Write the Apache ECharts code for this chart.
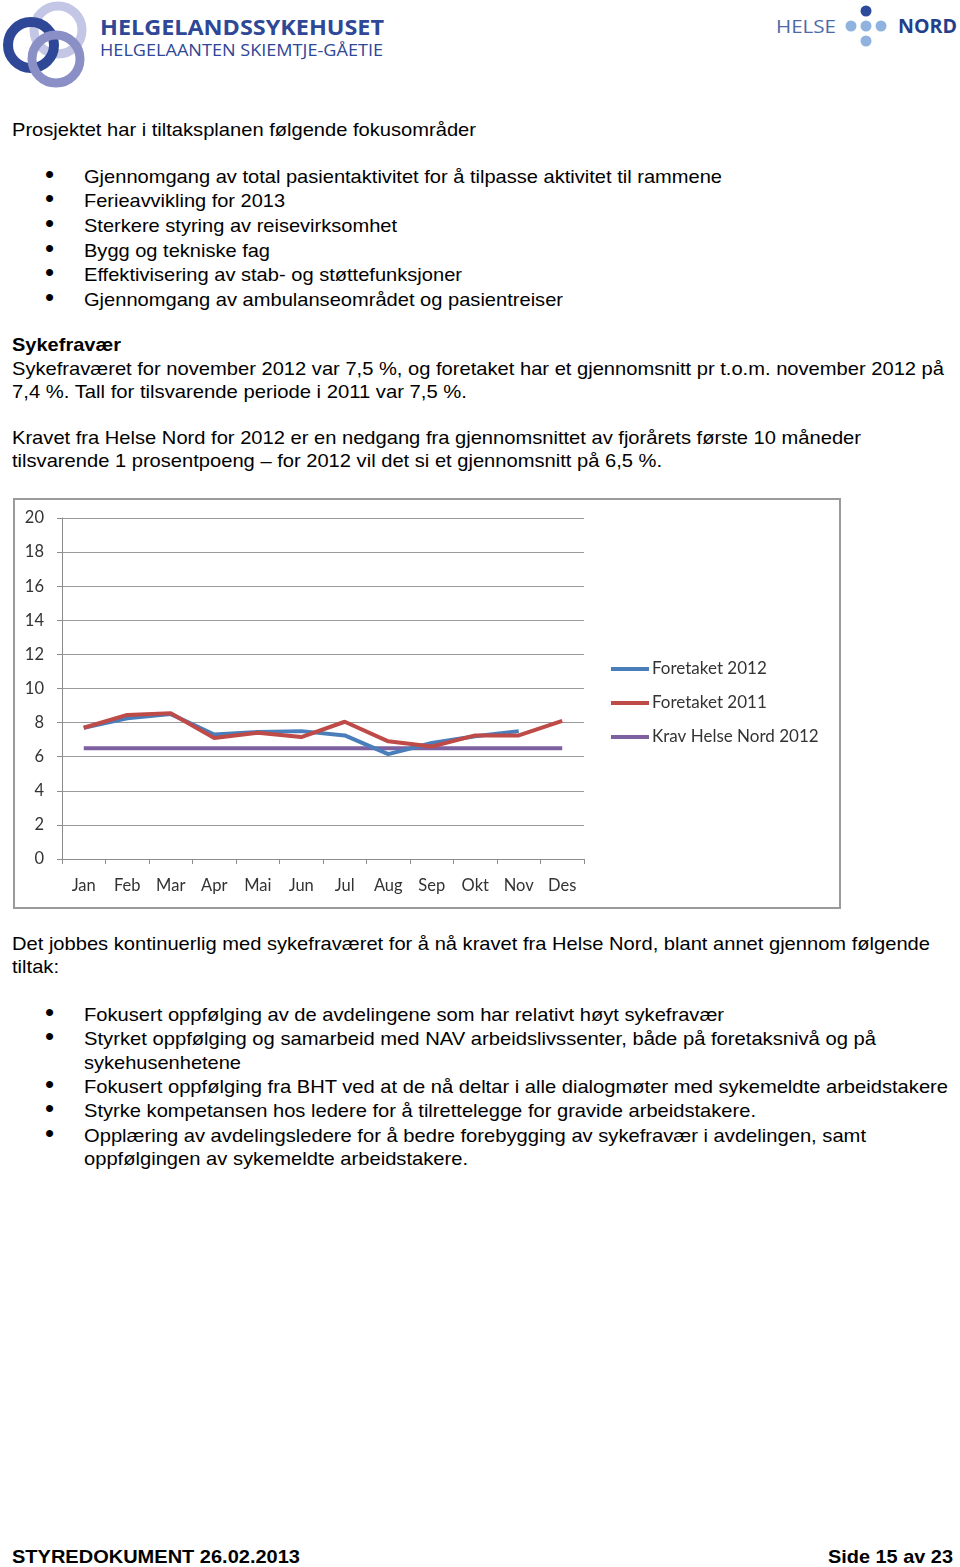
<!DOCTYPE html>
<html>
<head>
<meta charset="utf-8">
<script src="https://cdn.jsdelivr.net/npm/echarts@6/dist/echarts.min.js"></script>
<style>
  html, body { margin: 0; padding: 0; background: #fff; }
  body { width: 960px; height: 1567px; position: relative; overflow: hidden; }
  .ln { position: absolute; white-space: nowrap; font-family: "Liberation Sans", Arial, sans-serif; color: #000; transform-origin: 0 0; }
  #chart { position: absolute; left: 12px; top: 497px; width: 829px; height: 412px; }
</style>
</head>
<body>
<svg id="logo" width="960" height="95" style="position:absolute;left:0;top:0">
  <circle cx="58" cy="30" r="24" fill="none" stroke="#c3c6e4" stroke-width="9"/>
  <circle cx="31" cy="45" r="23" fill="none" stroke="#2f4797" stroke-width="10"/>
  <circle cx="56" cy="59" r="24" fill="none" stroke="#8a8fc6" stroke-width="9"/>
  <text x="100" y="35" font-family="Open Sans, sans-serif" font-weight="bold" font-size="21.5" fill="#2e4796" textLength="284" lengthAdjust="spacingAndGlyphs">HELGELANDSSYKEHUSET</text>
  <text x="100" y="56" font-family="Open Sans, sans-serif" font-size="17" fill="#2e4796" textLength="283" lengthAdjust="spacingAndGlyphs">HELGELAANTEN SKIEMTJE-GÅETIE</text>
  <text x="776" y="33" font-family="Open Sans, sans-serif" font-size="19" fill="#4d6aa6" textLength="60" lengthAdjust="spacingAndGlyphs">HELSE</text>
  <circle cx="866" cy="11" r="5.5" fill="#2d4a9b"/>
  <circle cx="851" cy="26" r="5.5" fill="#8fb2de"/>
  <circle cx="866" cy="26" r="5.5" fill="#8fb2de"/>
  <circle cx="881" cy="26" r="5.5" fill="#8fb2de"/>
  <circle cx="866" cy="41" r="5.5" fill="#8fb2de"/>
  <text x="898" y="33" font-family="Open Sans, sans-serif" font-weight="bold" font-size="19" fill="#233f8a" textLength="59" lengthAdjust="spacingAndGlyphs">NORD</text>
</svg>
<div id="text"></div>
<div id="chart"></div>
<script>
// ---- chart data ----
var months = ['Jan', 'Feb', 'Mar', 'Apr', 'Mai', 'Jun', 'Jul', 'Aug', 'Sep', 'Okt', 'Nov', 'Des'];
var foretaket2012 = [7.7, 8.25, 8.5, 7.3, 7.45, 7.5, 7.25, 6.15, 6.8, 7.2, 7.5];
var foretaket2011 = [7.7, 8.45, 8.55, 7.1, 7.4, 7.15, 8.05, 6.9, 6.6, 7.25, 7.25, 8.1];
var kravHelseNord2012 = [6.5, 6.5, 6.5, 6.5, 6.5, 6.5, 6.5, 6.5, 6.5, 6.5, 6.5, 6.5];
var seriesNames = ['Foretaket 2012', 'Foretaket 2011', 'Krav Helse Nord 2012'];
var yTicks = [0, 2, 4, 6, 8, 10, 12, 14, 16, 18, 20];

// ---- page text lines: [text, left, centerY, right, bold] ----
var lines = [
  ['Prosjektet har i tiltaksplanen følgende fokusområder', 12, 130, 476, false],
  ['•', 48, 177, 58, false],
  ['Gjennomgang av total pasientaktivitet for å tilpasse aktivitet til rammene', 84, 177, 722, false],
  ['•', 48, 201, 58, false],
  ['Ferieavvikling for 2013', 84, 201, 285, false],
  ['•', 48, 226, 58, false],
  ['Sterkere styring av reisevirksomhet', 84, 226, 397, false],
  ['•', 48, 251, 58, false],
  ['Bygg og tekniske fag', 84, 251, 270, false],
  ['•', 48, 275, 58, false],
  ['Effektivisering av stab- og støttefunksjoner', 84, 275, 462, false],
  ['•', 48, 300, 58, false],
  ['Gjennomgang av ambulanseområdet og pasientreiser', 84, 300, 563, false],
  ['Sykefravær', 12, 345, 121, true],
  ['Sykefraværet for november 2012 var 7,5 %, og foretaket har et gjennomsnitt pr t.o.m. november 2012 på', 12, 369, 944, false],
  ['7,4 %. Tall for tilsvarende periode i 2011 var 7,5 %.', 12, 392, 467, false],
  ['Kravet fra Helse Nord for 2012 er en nedgang fra gjennomsnittet av fjorårets første 10 måneder', 12, 438, 861, false],
  ['tilsvarende 1 prosentpoeng – for 2012 vil det si et gjennomsnitt på 6,5 %.', 12, 461, 662, false],
  ['Det jobbes kontinuerlig med sykefraværet for å nå kravet fra Helse Nord, blant annet gjennom følgende', 12, 944, 930, false],
  ['tiltak:', 12, 967, 59, false],
  ['•', 48, 1015, 58, false],
  ['Fokusert oppfølging av de avdelingene som har relativt høyt sykefravær', 84, 1015, 724, false],
  ['•', 48, 1039, 58, false],
  ['Styrket oppfølging og samarbeid med NAV arbeidslivssenter, både på foretaksnivå og på', 84, 1039, 876, false],
  ['sykehusenhetene', 84, 1063, 241, false],
  ['•', 48, 1087, 58, false],
  ['Fokusert oppfølging fra BHT ved at de nå deltar i alle dialogmøter med sykemeldte arbeidstakere', 84, 1087, 948, false],
  ['•', 48, 1111, 58, false],
  ['Styrke kompetansen hos ledere for å tilrettelegge for gravide arbeidstakere.', 84, 1111, 756, false],
  ['•', 48, 1136, 58, false],
  ['Opplæring av avdelingsledere for å bedre forebygging av sykefravær i avdelingen, samt', 84, 1136, 866, false],
  ['oppfølgingen av sykemeldte arbeidstakere.', 84, 1159, 468, false],
  ['STYREDOKUMENT 26.02.2013', 12, 1557, 300, true],
  ['Side 15 av 23', 828, 1557, 953, true]
];

var host = document.getElementById('text');
lines.forEach(function (l) {
  var isBullet = l[0] === '•';
  var fs = isBullet ? 26 : 18.5;
  var d = document.createElement('div');
  d.className = 'ln';
  d.textContent = l[0];
  d.style.fontSize = fs + 'px';
  d.style.lineHeight = fs + 'px';
  d.style.fontWeight = l[4] ? 'bold' : 'normal';
  d.style.left = (isBullet ? 45 : l[1]) + 'px';
  d.style.top = (isBullet ? l[2] - 0.62 * fs : l[2] - 0.49 * fs) + 'px';
  host.appendChild(d);
  if (!isBullet) {
    var w = d.getBoundingClientRect().width;
    var sx = (l[3] - l[1]) / w;
    d.style.transform = 'scaleX(' + sx + ')';
  }
});

// ---- chart ----
var chart = echarts.init(document.getElementById('chart'), null, { renderer: 'canvas' });
var labelFont = 'Lato, "Open Sans", sans-serif';
var colors = ['#4a7ebb', '#be4b48', '#7d60a0'];
chart.setOption({
  animation: false,
  color: colors,
  graphic: [{
    type: 'rect', left: 1, top: 1, z: -1,
    shape: { width: 826, height: 409 },
    style: { fill: '#fff', stroke: '#9a9a9a', lineWidth: 2 }
  }],
  grid: { left: 50, top: 21, width: 522, height: 341, containLabel: false },
  legend: {
    orient: 'vertical',
    left: 594,
    top: 157,
    itemWidth: 38,
    itemHeight: 4,
    itemGap: 14,
    icon: 'rect',
    data: seriesNames,
    textStyle: { fontFamily: labelFont, fontSize: 17, color: '#333', lineHeight: 20, padding: [0, 0, 0, -2] }
  },
  xAxis: {
    type: 'category',
    data: months,
    boundaryGap: true,
    axisLine: { lineStyle: { color: '#8c8c8c', width: 1 } },
    axisTick: { show: true, alignWithLabel: false, length: 5, lineStyle: { color: '#8c8c8c' } },
    axisLabel: { fontFamily: labelFont, fontSize: 16.5, color: '#333', margin: 18 },
    splitLine: { show: false }
  },
  yAxis: {
    type: 'value',
    min: yTicks[0],
    max: yTicks[yTicks.length - 1],
    interval: yTicks[1] - yTicks[0],
    axisLine: { show: true, lineStyle: { color: '#8c8c8c', width: 1 } },
    axisTick: { show: true, length: 5, lineStyle: { color: '#8c8c8c' } },
    axisLabel: { fontFamily: labelFont, fontSize: 16.5, color: '#333', margin: 18 },
    splitLine: { show: true, lineStyle: { color: '#9a9a9a', width: 1 } }
  },
  series: [
    { name: seriesNames[0], type: 'line', data: foretaket2012, symbol: 'none', z: 3, lineStyle: { width: 4, color: colors[0] } },
    { name: seriesNames[1], type: 'line', data: foretaket2011, symbol: 'none', z: 4, lineStyle: { width: 4, color: colors[1] } },
    { name: seriesNames[2], type: 'line', data: kravHelseNord2012, symbol: 'none', z: 2, lineStyle: { width: 4, color: colors[2] } }
  ]
});
</script>
</body>
</html>
